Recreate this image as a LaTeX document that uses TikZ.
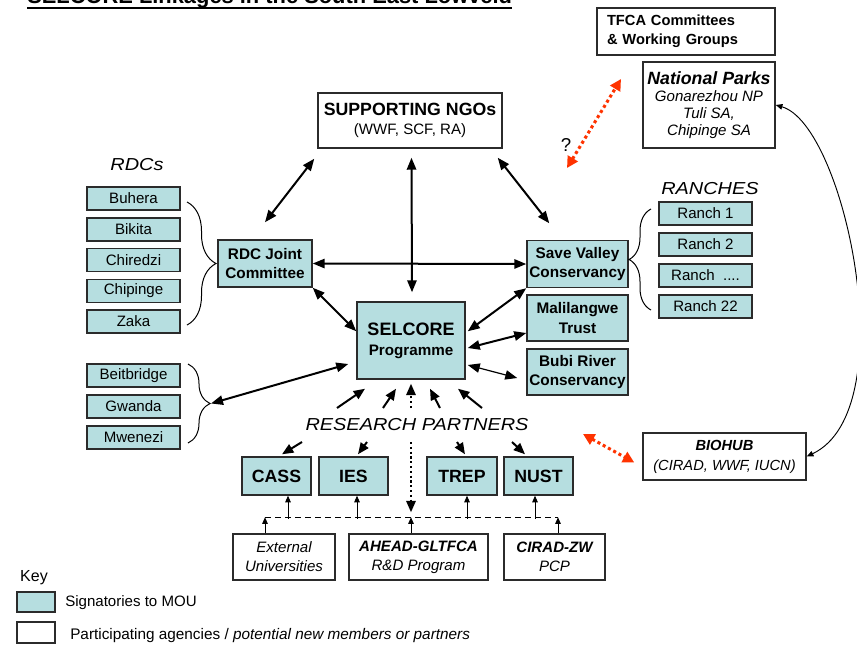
\documentclass[tikz,border=0pt]{standalone}
\usepackage{fontspec}
\setmainfont{Liberation Sans}
\newfontfamily\widefont[FakeStretch=1.15]{Liberation Sans}
\usepackage{xcolor}
\usetikzlibrary{arrows.meta,calc,decorations.pathreplacing}
\definecolor{mou}{HTML}{B6DEE0}
\definecolor{edge}{HTML}{2B2B2B}
\definecolor{hot}{HTML}{FF3300}

\begin{document}
\begin{tikzpicture}[x=0.75pt,y=-0.75pt,
  sz/.style 2 args={minimum width=#1*0.75pt,minimum height=#2*0.75pt},
  box/.style={draw=edge,line width=1.1pt,inner sep=0pt,align=center,font=\fontsize{11.3}{14.3}\selectfont},
  sig/.style={box,fill=mou},
  part/.style={box,fill=white},
  bold/.style={font=\bfseries\fontsize{11.5}{14.3}\selectfont},
  big/.style={font=\bfseries\fontsize{13.3}{16}\selectfont},
  lab/.style={inner sep=0pt,font=\widefont\itshape\fontsize{13}{15}\selectfont},
  bi/.style={<->,>={Triangle[length=9pt,width=7pt]},line width=1.5pt},
  one/.style={->,>={Triangle[length=8.5pt,width=7pt]},line width=1.5pt},
  dotarr/.style={one,dash pattern=on 1.6pt off 2pt},
  small/.style={->,>={Triangle[length=5pt,width=4.2pt]},line width=0.7pt},
  hotarr/.style={<->,>={Triangle[length=8.5pt,width=8.5pt]},draw=hot,line width=2.3pt,dash pattern=on 2.3pt off 2.2pt},
  brc/.style={decorate,line width=0.75pt}]
\path[fill=white,use as bounding box] (0,0) rectangle (857,646);

% title
\node[anchor=base west,inner sep=0pt,font=\bfseries\fontsize{16.4}{18}\selectfont] (title) at (27,3) {SELCORE Linkages in the South East Lowveld};
\draw[line width=1.7pt] ($(title.base west)+(0,5)$) -- ($(title.base east)+(0,5)$);

% top
\node[part,sz={184}{55}] (ngo) at (410,120.5) {{\bfseries\fontsize{13.3}{16}\selectfont SUPPORTING NGOs}\\(WWF, SCF, RA)};
\node[part,sz={178}{47},text width=118.5pt,align=left,inner xsep=7.5pt,font=\bfseries\fontsize{11}{14}\selectfont] (tfca) at (686,31.5) {TFCA Committees\\\& Working Groups};
\node[part,sz={132}{86},font=\itshape\fontsize{11.3}{12.8}\selectfont] (np) at (709,105) {{\bfseries\fontsize{13.3}{16}\selectfont National Parks}\\Gonarezhou NP\\Tuli SA,\\Chipinge SA};
\node[font=\fontsize{14}{16}\selectfont,inner sep=0pt] (qm) at (566,145) {?};

% RDCs
\node[lab] (rdcs) at (137,165) {RDCs};
\node[sig,sz={93}{23}] (buhera) at (133.5,198.5) {Buhera};
\node[sig,sz={93}{23}] (bikita) at (133.5,229.5) {Bikita};
\node[sig,sz={93}{23}] (chiredzi) at (133.5,260) {Chiredzi};
\node[sig,sz={93}{23}] (chipinge) at (133.5,291) {Chipinge};
\node[sig,sz={93}{23}] (zaka) at (133.5,321.5) {Zaka};
\node[sig,sz={93}{23}] (beit) at (133.5,375.5) {Beitbridge};
\node[sig,sz={93}{23}] (gwanda) at (133.5,406.5) {Gwanda};
\node[sig,sz={93}{23}] (mwenezi) at (133.5,437.5) {Mwenezi};
\draw[brc,decoration={brace,amplitude=21.75pt}] (187,202) -- (187,325);
\draw[brc,decoration={brace,amplitude=16.5pt}] (188,364) -- (188,443);
\coordinate (btip) at (211,403.5);

% centre
\node[sig,bold,sz={94}{47}] (rdcjc) at (265,263.5) {RDC Joint\\Committee};
\node[sig,sz={108}{77},font=\bfseries\fontsize{11.4}{15}\selectfont] (selcore) at (411,340.5) {{\fontsize{13.5}{16}\selectfont SELCORE}\\Programme};
\node[sig,bold,sz={101}{47}] (svc) at (577.5,264) {Save Valley\\Conservancy};
\node[sig,bold,sz={101}{46}] (mali) at (577.5,318) {Malilangwe\\Trust};
\node[sig,bold,sz={101}{46}] (bubi) at (577.5,372) {Bubi River\\Conservancy};

% ranches
\node[lab] (ranches) at (710,189) {RANCHES};
\node[sig,sz={93}{23}] (r1) at (705.5,213.5) {Ranch 1};
\node[sig,sz={93}{23}] (r2) at (705.5,244.5) {Ranch 2};
\node[sig,sz={93}{23}] (r3) at (705.5,275.5) {Ranch~~....};
\node[sig,sz={93}{23}] (r22) at (705.5,306.5) {Ranch 22};
\draw[brc,decoration={brace,amplitude=16.5pt}] (651,310) -- (651,209);

\node[part,sz={163}{47},font=\itshape\fontsize{11}{15}\selectfont] (biohub) at (724.5,456.5) {{\bfseries BIOHUB}\\(CIRAD, WWF, IUCN)};

% research partners
\node[lab] (rp) at (417,425) {RESEARCH PARTNERS};
\node[sig,big,sz={69}{38}] (cass) at (276.5,476) {CASS};
\node[sig,big,sz={69}{38}] (ies) at (353.5,476) {IES};
\node[sig,big,sz={70}{38}] (trep) at (462,476) {TREP};
\node[sig,big,sz={69}{38}] (nust) at (538.5,476) {NUST};
\node[part,sz={102}{46},font=\itshape\fontsize{11.3}{14.3}\selectfont] (ext) at (284,557) {External\\Universities};
\node[part,sz={139}{46},font=\itshape\fontsize{11.3}{14.3}\selectfont] (ahead) at (418.5,557) {{\bfseries AHEAD-GLTFCA}\\R\&D Program};
\node[part,sz={101}{46},font=\itshape\fontsize{11.3}{14.3}\selectfont] (cirad) at (554.5,557) {{\bfseries CIRAD-ZW}\\PCP};

% key
\node[inner sep=0pt,font=\fontsize{12}{14}\selectfont] (key) at (34,578) {Key};
\node[sig,sz={38}{20}] (k1) at (36,602) {};
\node[part,sz={38}{21}] (k2) at (36,632.5) {};
\node[anchor=west,inner sep=0pt,font=\fontsize{11.3}{14}\selectfont] (k1t) at (65,603) {Signatories to MOU};
\node[anchor=west,inner sep=0pt,font=\fontsize{11.5}{14}\selectfont] (k2t) at (70,636) {Participating agencies / \textit{potential new members or partners}};

% links
\draw[bi] ($(ngo.south west)+(-3,10)$) -- ($(rdcjc.north)+(0,-17)$);
\draw[bi] ($(ngo.south east)+(-5,9)$) -- ($(svc.north west)+(23,-16.5)$);
\draw[bi] ($(ngo.south)+(1.5,9)$) -- ($(selcore.north)+(1,-9)$);
\draw[bi] (rdcjc.east) -- (svc.west);
\draw[bi] (rdcjc.south east) -- ($(selcore.north west)+(0,30)$);
\draw[bi] (svc.south west) -- ($(selcore.north east)+(2,30)$);
\draw[bi] ($(mali.west)+(0,15)$) -- ($(selcore.east)+(2,7.5)$);
\draw[bi,line width=0.9pt] ($(selcore.east)+(2,24.5)$) -- ($(bubi.west)+(-9,6)$);
\draw[bi] (btip) -- ($(selcore.west)+(-8,23.5)$);

\draw[one] ($(rp)+(-80,-17)$) -- ($(selcore.south)+(-46,9)$);
\draw[one] ($(rp)+(-34,-17)$) -- ($(selcore.south)+(-15,9)$);
\draw[dotarr] ($(rp)+(-6,-17)$) -- ($(selcore.south)+(0,4)$);
\draw[one] ($(rp)+(23,-17)$) -- ($(selcore.south)+(19,9)$);
\draw[one] ($(rp)+(65,-17)$) -- ($(selcore.south)+(47,9)$);

\coordinate (dl) at ($(ext.north)+(-19,-16)$);
\coordinate (jn) at ($(ahead.north)+(-7.5,-16)$);
\coordinate (dr) at ($(cirad.north)+(3.5,-16)$);
\draw[one] ($(rp)+(-115,17)$) -- ($(cass.north)+(5.5,-2)$);
\draw[one] ($(rp)+(-50,17)$) -- ($(ies.north)+(4.5,-2)$);
\draw[dotarr] ($(rp)+(-6,17)$) -- ($(jn)+(0,-5)$);
\draw[one] ($(rp)+(40,17)$) -- ($(trep.north)+(3,-2)$);
\draw[one] ($(rp)+(95,17)$) -- ($(nust.north)+(-13.5,-2)$);

\draw[line width=1pt,dash pattern=on 4.5pt off 3pt] (dl) -- (dr);
\draw[small] ($(ext.north)+(-19,0)$) -- (dl);
\draw[small] ($(ahead.north)+(-7.5,0)$) -- (jn);
\draw[small] ($(cirad.north)+(3.5,0)$) -- (dr);
\draw[small] ($(cass.south)+(11.5,23)$) -- ($(cass.south)+(11.5,0)$);
\draw[small] ($(ies.south)+(3.5,23)$) -- ($(ies.south)+(3.5,0)$);
\draw[small] ($(trep.south)+(5,23)$) -- ($(trep.south)+(5,0)$);
\draw[small] ($(nust.south)+(-3.5,23)$) -- ($(nust.south)+(-3.5,0)$);

\draw[small,<->] (np.east) .. controls (845,125) and (905,410) .. (biohub.east);

\coordinate (qa) at (567,168);
\coordinate (qb) at (621,79);
\coordinate (qc) at (583,434);
\draw[hotarr] (qa) -- (qb);
\draw[hotarr] (qc) -- ($(biohub.west)+(-8,6)$);
\end{tikzpicture}
\end{document}
